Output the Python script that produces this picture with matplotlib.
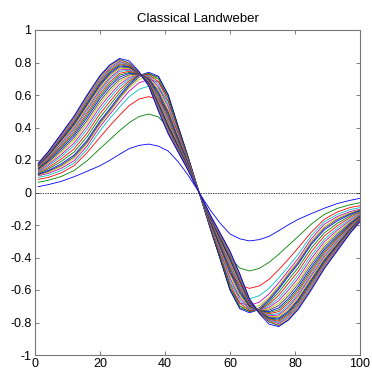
import matplotlib
matplotlib.use("Agg")
import matplotlib.pyplot as plt
import numpy as np

plt.rcParams['font.family'] = ['Liberation Sans', 'DejaVu Sans']

title = "Classical Landweber"
x_left = [1, 4, 8, 12, 16, 20, 23, 26, 29, 32, 35, 38, 41, 44, 47]
x_center = 50.5
x_ticks = [0, 20, 40, 60, 80, 100]
y_ticks = [-1, -0.8, -0.6, -0.4, -0.2, 0, 0.2, 0.4, 0.6, 0.8, 1]
y_tick_labels = ["-1", "-0.8", "-0.6", "-0.4", "-0.2", "0", "0.2", "0.4", "0.6", "0.8", "1"]

# Left-half values of each iterate (curves are point-symmetric about (50.5, 0))
iterates = [
    [.036, .048, .068, .097, .130, .165, .198, .235, .270, .290, .298, .285, .255, .190, .110],
    [.063, .075, .098, .135, .195, .270, .325, .380, .430, .467, .483, .465, .400, .300, .170],
    [.081, .092, .120, .165, .245, .340, .410, .475, .535, .575, .590, .570, .500, .370, .210],
    [.093, .105, .135, .180, .265, .380, .455, .525, .590, .635, .655, .640, .560, .400, .220],
    [.103, .117, .148, .195, .285, .405, .480, .555, .625, .675, .695, .680, .585, .405, .225],
    [.107, .125, .158, .210, .300, .420, .495, .575, .645, .695, .715, .700, .595, .410, .225],
    [.110, .130, .166, .220, .310, .430, .505, .585, .655, .710, .730, .710, .600, .410, .225],
    [.113, .135, .175, .230, .320, .440, .515, .595, .665, .720, .740, .715, .600, .410, .225],
    [.118, .144, .190, .249, .342, .462, .537, .613, .676, .722, .733, .698, .581, .397, .218],
    [.124, .153, .205, .268, .365, .485, .559, .632, .687, .723, .726, .681, .562, .384, .211],
    [.129, .163, .219, .288, .387, .507, .581, .650, .697, .725, .720, .663, .542, .372, .205],
    [.134, .171, .232, .304, .407, .527, .600, .666, .707, .726, .714, .648, .526, .360, .199],
    [.138, .179, .245, .321, .426, .546, .620, .682, .716, .728, .708, .633, .509, .349, .193],
    [.142, .186, .256, .336, .443, .563, .636, .696, .724, .729, .703, .620, .494, .340, .188],
    [.147, .193, .268, .350, .460, .580, .653, .710, .733, .730, .698, .608, .480, .330, .183],
    [.150, .198, .277, .362, .474, .594, .666, .722, .739, .731, .693, .597, .468, .322, .178],
    [.153, .204, .286, .374, .488, .608, .680, .733, .746, .732, .689, .586, .456, .314, .174],
    [.157, .210, .295, .386, .502, .622, .694, .745, .753, .733, .685, .575, .444, .306, .170],
    [.159, .214, .303, .396, .513, .633, .705, .754, .758, .734, .681, .567, .434, .300, .166],
    [.162, .219, .310, .405, .524, .644, .716, .763, .764, .735, .678, .558, .425, .293, .163],
    [.165, .224, .318, .415, .536, .656, .727, .772, .769, .735, .675, .549, .415, .287, .160],
    [.167, .227, .323, .422, .544, .664, .735, .779, .773, .736, .672, .543, .408, .282, .157],
    [.169, .231, .329, .429, .552, .672, .743, .786, .777, .737, .669, .537, .401, .277, .154],
    [.171, .234, .334, .436, .561, .681, .752, .793, .781, .737, .667, .530, .394, .272, .152],
    [.173, .237, .340, .444, .569, .689, .760, .800, .785, .738, .664, .524, .386, .268, .149],
    [.175, .241, .345, .451, .578, .698, .768, .807, .789, .738, .662, .517, .379, .263, .147],
    [.177, .244, .351, .458, .586, .706, .776, .814, .793, .739, .659, .511, .372, .258, .144],
    [.178, .247, .355, .464, .593, .713, .783, .819, .797, .740, .657, .505, .366, .254, .142],
    [.180, .250, .360, .470, .600, .720, .785, .825, .810, .745, .655, .500, .360, .250, .140],
]

color_order = [(0, 0, 1), (0, 0.5, 0), (1, 0, 0), (0, 0.75, 0.75),
               (0.75, 0, 0.75), (0.75, 0.75, 0), (0.25, 0.25, 0.25)]

fig = plt.figure(figsize=(3.72, 3.73), dpi=100)
ax = fig.add_axes([35/372, 1-355/373, 325/372, 325/373])

xl = np.array(x_left, dtype=float)
x_full = np.concatenate([xl, [x_center], (2*x_center - xl)[::-1]])
for i, vals in enumerate(iterates):
    v = np.array(vals)
    y_full = np.concatenate([v, [0.0], (-v)[::-1]])
    ax.plot(x_full, y_full, color=color_order[i % 7], lw=0.6)

ax.plot([0, 100], [0, 0], color='black', lw=0.5, linestyle=(0, (2, 1.5)))

ax.set_xlim(0, 100)
ax.set_ylim(-1, 1)
ax.set_xticks(x_ticks)
ax.set_yticks(y_ticks)
ax.set_yticklabels(y_tick_labels)
ax.tick_params(direction='in', length=3, width=0.6, colors='#666666', labelcolor='black',
               labelsize=9, top=True, right=True, pad=2.5)
for s in ax.spines.values():
    s.set_color('#777777')
    s.set_linewidth(0.8)
ax.set_title(title, fontsize=9.5, pad=6)

fig.savefig("out.png", dpi=100)
